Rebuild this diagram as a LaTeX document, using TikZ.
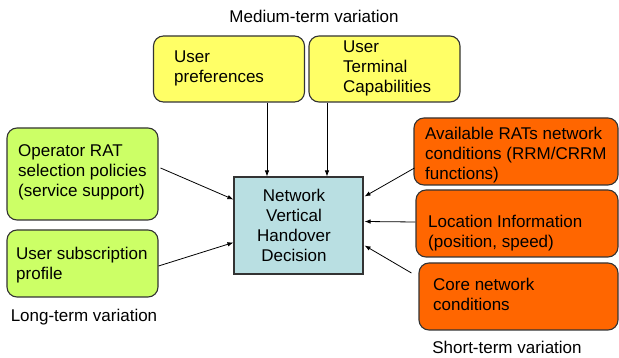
\documentclass[tikz,border=0pt]{standalone}
\usepackage{fontspec}
\setmainfont{Liberation Sans}
\usetikzlibrary{arrows.meta,calc}
\definecolor{cyel}{HTML}{FFFF66}
\definecolor{cgrn}{HTML}{CCFF66}
\definecolor{corg}{HTML}{FF6600}
\definecolor{cblu}{HTML}{B9DFE2}
\definecolor{cbrd}{HTML}{333333}
\tikzset{
  box/.style={draw=cbrd, line width=1.1pt, rounded corners=10pt, inner sep=0pt},
  ybox/.style={box, fill=cyel},
  gbox/.style={box, fill=cgrn},
  obox/.style={box, fill=corg},
  dbox/.style={draw=cbrd, line width=1.1pt, fill=cblu, inner sep=0pt},
  txt/.style={inner sep=0pt, align=left, anchor=west, font=\fontsize{17pt}{20pt}\selectfont},
  ctxt/.style={inner sep=0pt, align=center, font=\fontsize{17pt}{20pt}\selectfont},
  arr/.style={line width=0.8pt, -{Latex[length=6pt,width=4.5pt]}}
}
\begin{document}
\begin{tikzpicture}[x=1pt,y=-1pt]
\useasboundingbox (0,0) rectangle (619,358);
% boxes (pixel coordinates, y downward)
\node[ybox, minimum width=151pt, minimum height=66pt] (pref) at (229,69) {};
\node[ybox, minimum width=151pt, minimum height=66pt] (term) at (384.5,69) {};
\node[gbox, minimum width=151pt, minimum height=92pt] (op) at (82.5,174) {};
\node[gbox, minimum width=151pt, minimum height=67pt] (sub) at (82.5,263.5) {};
\node[dbox, minimum width=129pt, minimum height=97pt] (dec) at (298.5,225.5) {};
\node[obox, minimum width=204pt, minimum height=67pt] (avail) at (516,151.5) {};
\node[obox, minimum width=202pt, minimum height=67pt] (loc) at (517,223.5) {};
\node[obox, minimum width=199pt, minimum height=67pt] (core) at (518.5,296.5) {};
% texts
\node[txt] (tpref) at (174,68) {User\\preferences};
\node[txt] (tterm) at (343,68) {User\\Terminal\\Capabilities};
\node[txt] (top) at (18,172) {Operator RAT\\selection policies\\(service support)};
\node[txt] (tsub) at (16,265) {User subscription\\profile};
\node[ctxt] (tdec) at (294,225) {Network\\Vertical\\Handover\\Decision};
\node[txt] (tavail) at (425,155) {Available RATs network\\conditions (RRM/CRRM\\functions)};
\node[txt] (tloc) at (428,233) {Location Information\\(position, speed)};
\node[txt] (tcore) at (433,294) {Core network\\conditions};
% titles
\node[ctxt] (tmed) at (314,16) {Medium-term variation};
\node[ctxt] (tlong) at (84,317) {Long-term variation};
\node[ctxt] (tshort) at (507,347) {Short-term variation};
% connectors
\coordinate (c1) at (267,0);
\coordinate (c2) at (327,0);
\draw[arr] (pref.south -| c1) -- (dec.north -| c1);
\draw[arr] (term.south -| c2) -- (dec.north -| c2);
\draw[arr] ($(op.east)+(2,-6)$) -- ($(dec.west)+(0,-26)$);
\draw[arr] ($(sub.east)+(0,2.5)$) -- ($(dec.west)+(0,17)$);
\draw[arr] ($(avail.west)+(1,16.5)$) -- ($(dec.east)+(1,-29)$);
\draw[arr] ($(loc.west)+(0,-1.5)$) -- ($(dec.east)+(1,-4)$);
\coordinate (cs) at ($(core.west)+(-7,-23.5)$);
\draw[arr] (cs) -- ($(dec.east)+(1,20)$);
\end{tikzpicture}
\end{document}
